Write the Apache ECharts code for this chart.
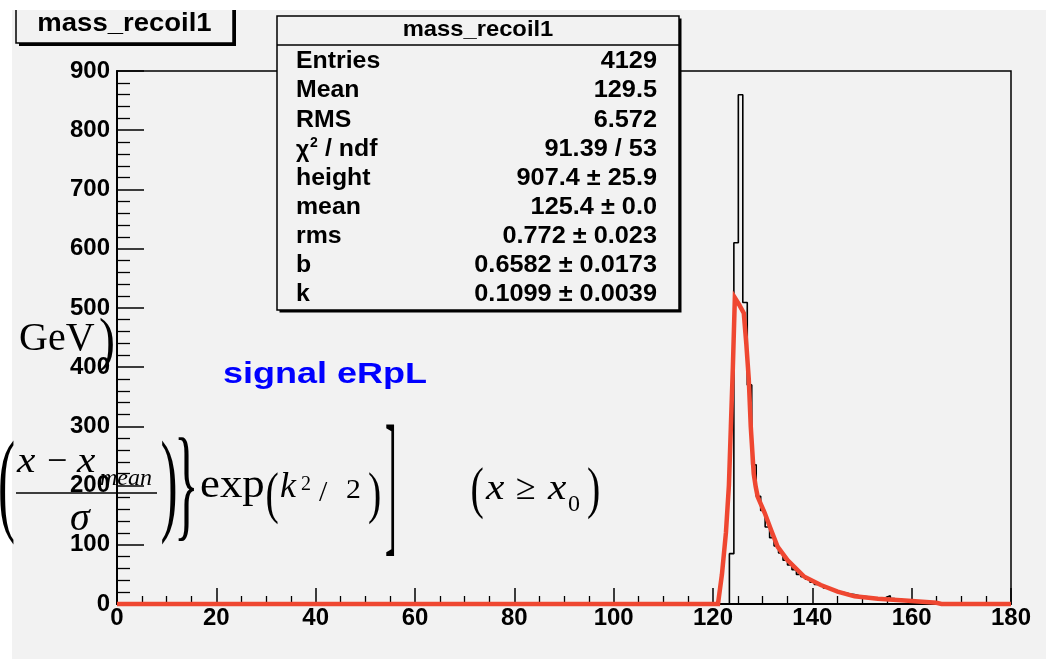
<!DOCTYPE html>
<html>
<head>
<meta charset="utf-8">
<script src="https://cdn.jsdelivr.net/npm/echarts@6/dist/echarts.min.js"></script>
<style>html,body{margin:0;padding:0;background:#fff}#c{width:1046px;height:659px}</style>
</head>
<body>
<div id="c"></div>
<script>
// ---- data ----
const binWidth = 0.9;          // 200 bins over 0..180
const firstEdge = 123.3;       // first non-empty bin low edge
const counts = [85, 610, 860, 509, 370, 235, 182, 158, 130, 112, 98, 86, 74, 66, 58, 50, 46, 42, 37, 33,
                31, 27, 25, 22, 20, 19, 17, 16, 14, 13, 12, 11, 10, 10, 11, 14, 9, 8, 7, 6,
                5, 5, 4, 3, 3, 2, 2, 1, 1];
const fitX = [0, 121, 121.8, 122.6, 123.2, 123.6, 124.0, 124.4, 125.3, 126.2, 126.7, 127.2, 127.6, 128.2, 128.6,
              129.0, 130.4, 131.7, 133.0, 135.0, 138.4, 141.7, 145.1, 148.5, 153.2, 158.6, 165.0, 166.0, 180];
const fitY = [0, 0, 50, 120, 200, 300, 400, 517, 505, 491, 440, 380, 300, 220, 198,
              181, 154, 125, 97, 74, 46, 32, 21, 13, 9, 6, 2, 0, 0];
const statNames = ['Entries', 'Mean', 'RMS', '', 'height', 'mean', 'rms', 'b', 'k'];
const statValues = ['4129', '129.5', '6.572', '91.39 / 53', '907.4 \u00b1 25.9', '125.4 \u00b1 0.0',
                    '0.772 \u00b1 0.023', '0.6582 \u00b1 0.0173', '0.1099 \u00b1 0.0039'];
const histTitle = 'mass_recoil1';
const xMin = 0, xMax = 180, xStep = 20;
const yMin = 0, yMax = 900, yStep = 100;

// ---- build step histogram points ----
const histPts = [[xMin, 0], [firstEdge, 0]];
counts.forEach((c, i) => {
  const lo = +(firstEdge + i * binWidth).toFixed(2);
  const hi = +(firstEdge + (i + 1) * binWidth).toFixed(2);
  histPts.push([lo, c], [hi, c]);
});
histPts.push([+(firstEdge + counts.length * binWidth).toFixed(2), 0], [xMax, 0]);
const fitPts = fitX.map((x, i) => [x, fitY[i]]);

const GRAY = '#f2f2f2';
const SANS = '"Liberation Sans", Arial, sans-serif';
const SERIF = '"Liberation Serif", "Times New Roman", serif';

function T(text, x, y, font, o) {
  o = o || {};
  return {
    type: 'text', x: x, y: y, z: 100,
    scaleX: o.sx || 1, scaleY: o.sy || 1,
    style: {
      text: text, x: 0, y: 0, font: font, fill: o.fill || '#000',
      textAlign: o.align || 'left', align: o.align || 'left',
      textVerticalAlign: 'middle', verticalAlign: 'middle'
    }
  };
}
function R(x, y, w, h, fill, stroke, lw, z) {
  return { type: 'rect', z: z || 90, shape: { x: x, y: y, width: w, height: h },
           style: { fill: fill, stroke: stroke || null, lineWidth: lw || 0 } };
}
function L(x1, y1, x2, y2, lw, z) {
  return { type: 'line', z: z || 101, shape: { x1: x1, y1: y1, x2: x2, y2: y2 },
           style: { stroke: '#000', lineWidth: lw } };
}

const g = [];
// white margins of the original screenshot (below the pasted texts)
g.push(R(0, 0, 12, 659, '#fff', null, 0, 97));
g.push(R(0, 0, 1046, 10, '#fff', null, 0, 97));

// title box (top-left)
g.push(R(19, -5, 217, 51, '#000', null, 0, 95));
g.push(R(16, -8, 217, 51, GRAY, '#000', 1.5, 96));
g.push(T(histTitle, 124.5, 24.3, 'bold 25px ' + SANS, { align: 'center', sx: 1.1 }));

// stats box
g.push(R(279.5, 18.5, 402, 294, '#000', null, 0, 95));
g.push(R(277, 16, 402, 294, GRAY, '#000', 1.5, 96));
g.push(L(277, 45, 679, 45, 1.5));
g.push(T(histTitle, 478, 30.4, 'bold 22px ' + SANS, { align: 'center', sx: 1.08 }));
statNames.forEach((n, i) => {
  const yc = 62 + i * 29.1;
  if (i === 3) {
    g.push(T('\u03c7', 296, yc + 1, 'bold 23px ' + SANS, { sx: 1.0 }));
    g.push(T('2', 310, yc - 6, 'bold 14px ' + SANS));
    g.push(T('/ ndf', 325, yc, 'bold 23px ' + SANS, { sx: 1.08 }));
  } else {
    g.push(T(n, 296, yc, 'bold 23px ' + SANS, { sx: 1.08 }));
  }
  g.push(T(statValues[i], 657, yc, 'bold 23px ' + SANS, { align: 'right', sx: 1.1 }));
});

// pasted annotation texts
g.push(T('GeV', 19, 339.5, '40px ' + SERIF));
g.push(T(')', 99, 343, '60px ' + SERIF, { sx: 0.8 }));
g.push(T('signal eRpL', 223, 374.6, 'bold 30px ' + SANS, { fill: '#0000ff', sx: 1.2 }));

g.push(T('(', -2, 490.5, '114px ' + SERIF, { sx: 0.45 }));
g.push(T('x', 17, 462.8, 'italic 36px ' + SERIF, { sx: 1.15 }));
g.push(T('\u2212', 47, 462.8, '36px ' + SERIF));
g.push(T('x', 77, 462.8, 'italic 36px ' + SERIF, { sx: 1.15 }));
g.push(T('mean', 100, 478.9, 'italic 24px ' + SERIF));
g.push(L(16, 493, 157, 493, 1.5));
g.push(T('\u03c3', 70, 519.5, 'italic 40px ' + SERIF));
g.push(T(')', 160.5, 490.5, '114px ' + SERIF, { sx: 0.45 }));
g.push(T('}', 174, 491, '125px ' + SERIF, { sx: 0.41 }));
g.push(T('exp', 200, 486.5, '40px ' + SERIF, { sx: 1.12 }));
g.push(T('(', 265.5, 497.5, '57px ' + SERIF, { sx: 0.7 }));
g.push(T('k', 280, 487.9, 'italic 36px ' + SERIF));
g.push(T('2', 301, 485.2, '20px ' + SERIF));
g.push(T('/', 319, 493.2, '30px ' + SERIF));
g.push(T('2', 346, 491.2, '27px ' + SERIF, { sx: 1.1 }));
g.push(T(')', 368, 497.5, '57px ' + SERIF, { sx: 0.7 }));
g.push(T(']', 385, 493, '70px ' + SERIF, { sx: 0.5, sy: 2.27 }));

g.push(T('(', 470.5, 492.5, '57px ' + SERIF, { sx: 0.7 }));
g.push(T('x', 486, 489.8, 'italic 36px ' + SERIF, { sx: 1.15 }));
g.push(T('\u2265', 516, 489.8, '36px ' + SERIF));
g.push(T('x', 548, 489.8, 'italic 36px ' + SERIF, { sx: 1.15 }));
g.push(T('0', 568, 504.9, '24px ' + SERIF));
g.push(T(')', 587, 492.5, '57px ' + SERIF, { sx: 0.7 }));

const axisLabel = { color: '#000', fontFamily: 'Liberation Sans', fontWeight: 'bold', fontSize: 24 };

const chart = echarts.init(document.getElementById('c'), null, { renderer: 'canvas' });
chart.setOption({
  backgroundColor: GRAY,
  animation: false,
  grid: { left: 117, right: 35, top: 71, bottom: 55, show: true, borderColor: '#000', borderWidth: 1.5,
          backgroundColor: 'transparent' },
  xAxis: {
    type: 'value', min: xMin, max: xMax, interval: xStep,
    axisLine: { show: true, onZero: false, lineStyle: { color: '#000', width: 2 } },
    axisTick: { show: true, inside: true, length: 16, lineStyle: { color: '#000', width: 1.5 } },
    minorTick: { show: true, splitNumber: 4, length: 8, lineStyle: { color: '#000', width: 1.3 } },
    splitLine: { show: false },
    axisLabel: Object.assign({ margin: 2 }, axisLabel)
  },
  yAxis: {
    type: 'value', min: yMin, max: yMax, interval: yStep,
    axisLine: { show: true, lineStyle: { color: '#000', width: 2 } },
    axisTick: { show: true, inside: true, length: 27, lineStyle: { color: '#000', width: 1.5 } },
    minorTick: { show: true, splitNumber: 5, length: 13, lineStyle: { color: '#000', width: 1.3 } },
    splitLine: { show: false },
    axisLabel: Object.assign({ margin: 7 }, axisLabel)
  },
  series: [
    { type: 'line', data: histPts, symbol: 'none', z: 3, clip: false,
      lineStyle: { color: '#000', width: 1.6 } },
    { type: 'line', data: fitPts, symbol: 'none', z: 4, clip: false,
      lineStyle: { color: '#ef4731', width: 4.5, join: 'miter' } }
  ],
  graphic: { elements: g }
});
</script>
</body>
</html>
